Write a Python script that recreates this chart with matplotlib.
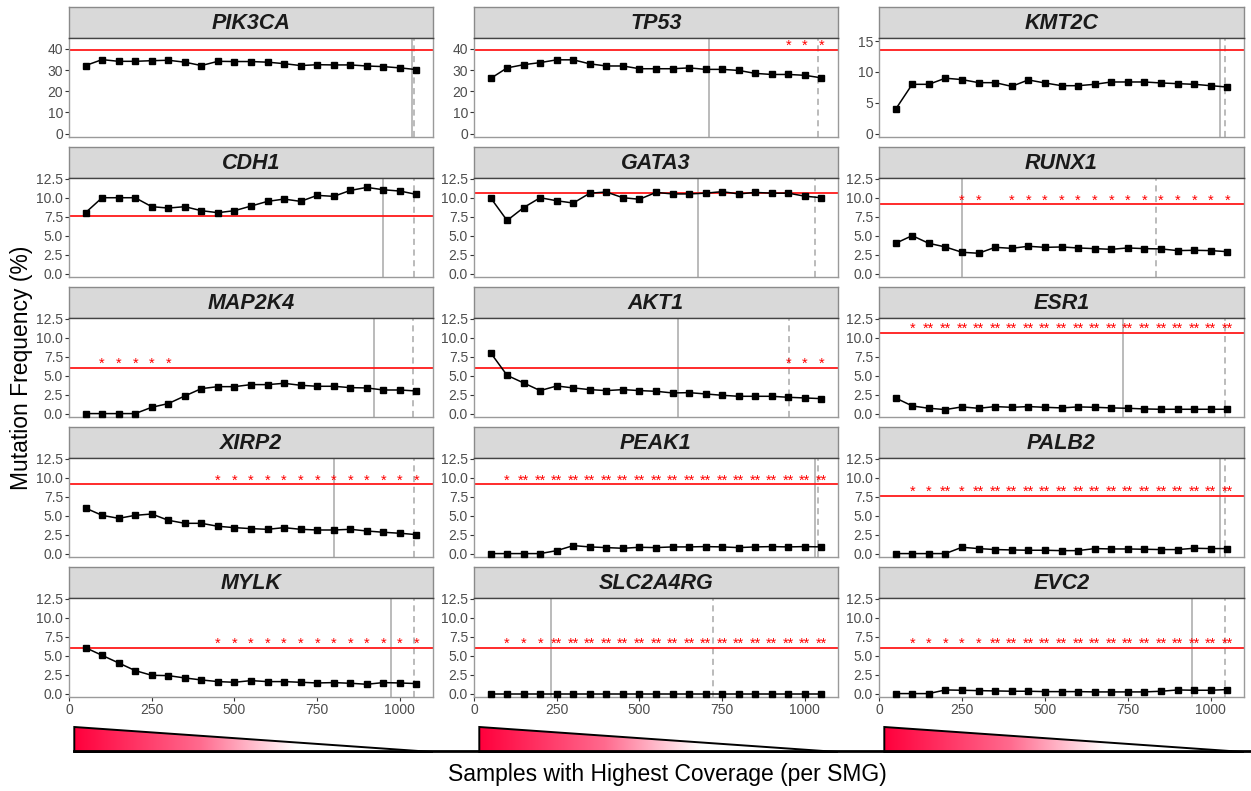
import numpy as np
import matplotlib
matplotlib.use("Agg")
import matplotlib.pyplot as plt
from matplotlib.colors import LinearSegmentedColormap
from matplotlib.patches import Polygon
from matplotlib.lines import Line2D

plt.rcParams['font.family'] = ['Liberation Sans', 'DejaVu Sans']

# ---------------- data ----------------
samples = [50, 100, 150, 200, 250, 300, 350, 400, 450, 500, 550,
           600, 650, 700, 750, 800, 850, 900, 950, 1000, 1050]

genes = ["PIK3CA", "TP53", "KMT2C",
         "CDH1", "GATA3", "RUNX1",
         "MAP2K4", "AKT1", "ESR1",
         "XIRP2", "PEAK1", "PALB2",
         "MYLK", "SLC2A4RG", "EVC2"]

pik3ca = [32.1, 34.9, 34.1, 34.1, 34.4, 34.6, 33.7, 32.1, 34.1, 34.0, 34.0,
          33.7, 33.0, 32.1, 32.5, 32.4, 32.4, 31.9, 31.6, 31.0, 30.2]
tp53 = [26.0, 31.0, 32.5, 33.5, 34.8, 34.8, 32.9, 31.9, 31.9, 30.6, 30.6,
        30.6, 31.0, 30.3, 30.3, 29.8, 28.4, 27.9, 27.9, 27.5, 26.3]
kmt2c = [3.94, 7.99, 7.99, 8.98, 8.76, 8.26, 8.26, 7.66, 8.70, 8.21, 7.77,
         7.77, 7.99, 8.37, 8.37, 8.37, 8.21, 8.10, 7.99, 7.77, 7.55]
cdh1 = [8.03, 10.0, 10.0, 10.0, 8.82, 8.64, 8.82, 8.29, 8.03, 8.29, 8.90,
        9.52, 9.82, 9.52, 10.31, 10.18, 10.96, 11.36, 11.05, 10.88, 10.44]
gata3 = [10.0, 7.0, 8.7, 10.0, 9.6, 9.3, 10.6, 10.75, 10.0, 9.8, 10.7,
         10.5, 10.5, 10.6, 10.8, 10.5, 10.7, 10.6, 10.6, 10.2, 10.0]
runx1 = [3.99, 5.0, 3.99, 3.51, 2.81, 2.68, 3.46, 3.33, 3.6, 3.46, 3.51,
         3.38, 3.29, 3.2, 3.38, 3.29, 3.25, 3.03, 3.07, 3.03, 2.89]
map2k4 = [0.0, 0.0, 0.0, 0.0, 0.83, 1.32, 2.32, 3.29, 3.55, 3.55, 3.82,
          3.82, 3.99, 3.73, 3.6, 3.6, 3.42, 3.38, 3.11, 3.11, 2.98]
akt1 = [8.03, 5.04, 4.04, 3.03, 3.64, 3.38, 3.16, 3.03, 3.16, 3.03, 2.94,
        2.72, 2.76, 2.59, 2.41, 2.28, 2.28, 2.28, 2.15, 2.06, 1.97]
esr1 = [2.06, 1.01, 0.70, 0.53, 0.88, 0.70, 0.92, 0.83, 0.92, 0.83, 0.75,
        0.88, 0.83, 0.75, 0.70, 0.61, 0.57, 0.57, 0.57, 0.57, 0.57]
xirp2 = [6.0, 5.04, 4.65, 5.04, 5.22, 4.39, 3.99, 3.99, 3.6, 3.42, 3.29,
         3.2, 3.42, 3.2, 3.11, 3.11, 3.2, 2.98, 2.81, 2.68, 2.5]
peak1 = [0.0, 0.0, 0.0, 0.0, 0.39, 1.05, 0.88, 0.79, 0.70, 0.83, 0.79,
         0.88, 0.88, 0.92, 0.88, 0.79, 0.88, 0.92, 0.88, 0.92, 0.88]
palb2 = [0.0, 0.0, 0.0, 0.0, 0.83, 0.66, 0.53, 0.48, 0.44, 0.44, 0.39,
         0.39, 0.66, 0.61, 0.61, 0.57, 0.53, 0.53, 0.70, 0.66, 0.66]
mylk = [6.05, 5.04, 4.04, 3.03, 2.41, 2.37, 2.06, 1.80, 1.58, 1.49, 1.71,
        1.58, 1.58, 1.49, 1.40, 1.45, 1.36, 1.23, 1.45, 1.40, 1.32]
slc2a4rg = [0.0, 0.0, 0.0, 0.0, 0.0, 0.0, 0.0, 0.0, 0.0, 0.0, 0.0,
            0.0, 0.0, 0.0, 0.0, 0.0, 0.0, 0.0, 0.0, 0.0, 0.0]
evc2 = [0.0, 0.0, 0.0, 0.48, 0.44, 0.39, 0.35, 0.31, 0.31, 0.26, 0.26,
        0.26, 0.22, 0.22, 0.22, 0.22, 0.31, 0.48, 0.44, 0.44, 0.53]

series = [pik3ca, tp53, kmt2c, cdh1, gata3, runx1, map2k4, akt1, esr1,
          xirp2, peak1, palb2, mylk, slc2a4rg, evc2]

# red reference line per gene
thresholds = [39.5, 39.4, 13.6, 7.6, 10.65, 9.12, 6.05, 6.05, 10.6,
              9.12, 9.12, 7.63, 6.05, 6.05, 6.05]
# height of the significance labels
star_levels = [43.6, 43.6, 15.0, 8.8, 11.8, 10.3, 7.24, 7.24, 11.8,
               10.3, 10.3, 8.77, 7.24, 7.24, 7.24]
# significance per sample point: 0 none, 1 "*", 2 "**"
star_codes = ["000000000000000000000",
              "000000000000000000111",
              "000000000000000000000",
              "000000000000000000000",
              "000000000000000000000",
              "000011011111111111111",
              "011111000000000000000",
              "000000000000000000111",
              "012222222222222222222",
              "000000001111111111111",
              "012222222222222222222",
              "011212222222222222222",
              "000000001111111111111",
              "011122222222222222222",
              "011111222222222222222"]
solid_cutoff = [1038, 711, 1028, 949, 677, 251, 921, 616, 735,
                800, 1032, 1027, 973, 234, 942]
dashed_cutoff = [1043, 1040, 1044, 1042, 1030, 835, 1041, 951, 1044,
                 1043, 1040, 1042, 1043, 721, 1044]

y_limits = [(-1.6, 45.1), (-1.6, 45.1), (-0.55, 15.5)] + [(-0.45, 12.6)] * 12
y_ticks = [[0, 10, 20, 30, 40], [0, 10, 20, 30, 40], [0, 5, 10, 15]] + \
          [[0.0, 2.5, 5.0, 7.5, 10.0, 12.5]] * 12
x_ticks = [0, 250, 500, 750, 1000]

# ---------------- layout ----------------
W, H = 1251, 791
fig = plt.figure(figsize=(W / 100, H / 100), dpi=100)
fig.patch.set_facecolor("white")


def px_axes(x0, y0, x1, y1):
    return fig.add_axes([x0 / W, 1 - y1 / H, (x1 - x0) / W, (y1 - y0) / H])


col_left = [69, 474, 879]
col_right = [433, 838, 1244]
border = "#9A9A9A"
tick_col = "#333333"
lab_col = "#4D4D4D"
star_map = {"0": "", "1": "*", "2": "**"}

for i, gene in enumerate(genes):
    r, c = divmod(i, 3)
    strip_top = 7 + 140 * r
    strip_bot = 38 + 140 * r
    pan_bot = 137 + 140 * r
    x0, x1 = col_left[c], col_right[c]

    # strip
    sax = px_axes(x0, strip_top, x1, strip_bot)
    sax.set_facecolor("#D9D9D9")
    sax.set_xticks([])
    sax.set_yticks([])
    for sp in sax.spines.values():
        sp.set_color("#8A8A8A")
        sp.set_linewidth(1.0)
    sax.text(0.5, 0.47, gene, transform=sax.transAxes, ha="center", va="center",
             fontsize=15.5, fontweight="bold", fontstyle="italic", color="#1A1A1A")

    # panel
    ax = px_axes(x0, strip_bot, x1, pan_bot)
    ax.set_facecolor("white")
    ax.set_xlim(0, 1100)
    ax.set_ylim(*y_limits[i])
    for sp in ax.spines.values():
        sp.set_color(border)
        sp.set_linewidth(1.0)
    ax.spines["top"].set_color("#444444")

    ax.axvline(solid_cutoff[i], color="#A8A8A8", lw=1.1, zorder=1)
    ax.axvline(dashed_cutoff[i], color="#A8A8A8", lw=1.1, ls=(0, (4, 3)), zorder=1)
    ax.axhline(thresholds[i], color="#FF1A1A", lw=1.3, zorder=2)
    ax.plot(samples, series[i], color="black", lw=1.1, marker="s", ms=4.6,
            zorder=4, clip_on=False)

    for xv, code in zip(samples, star_codes[i]):
        lbl = star_map[code]
        if lbl:
            ax.annotate(lbl, (xv, star_levels[i]), xytext=(0, -6.4),
                        textcoords="offset points", ha="center", va="baseline",
                        fontsize=10.5, color="red", zorder=3)

    ax.set_yticks(y_ticks[i])
    if i >= 3:
        ax.set_yticklabels([f"{v:.1f}" for v in y_ticks[i]])
    else:
        ax.set_yticklabels([f"{v:g}" for v in y_ticks[i]])
    ax.tick_params(axis="y", length=2.8, width=0.8, color=tick_col,
                   labelsize=10, labelcolor=lab_col, pad=1.5)
    ax.set_xticks(x_ticks)
    if r == 4:
        ax.tick_params(axis="x", length=2.8, width=0.8, color=tick_col,
                       labelsize=10, labelcolor=lab_col, pad=1.5)
    else:
        ax.tick_params(axis="x", length=0, labelbottom=False)

# ---------------- coverage wedges ----------------
cmap = LinearSegmentedColormap.from_list(
    "wedge", [(0.0, "#FF003C"), (0.35, "#FF6A8E"), (0.62, "#FFFFFF"), (1.0, "#FFFFFF")])
grad = np.linspace(0, 1, 256).reshape(1, -1)
for c in range(3):
    tax = px_axes(col_left[c], 727, col_right[c], 752)
    tax.set_xlim(0, 1100)
    tax.set_ylim(0, 1)
    tax.axis("off")
    verts = [(16, 1), (16, 0), (1100, 0)]
    tri = Polygon(verts, closed=True, facecolor="none", edgecolor="none")
    tax.add_patch(tri)
    im = tax.imshow(grad, extent=(16, 1100, 0, 1), aspect="auto", cmap=cmap,
                    interpolation="bilinear", zorder=1)
    im.set_clip_path(tri)
    outline = Polygon(verts, closed=True, facecolor="none", edgecolor="black",
                      lw=1.4, clip_on=False, zorder=2)
    tax.add_patch(outline)

fig.add_artist(Line2D([74 / W, 1.0], [1 - 751 / H, 1 - 751 / H],
                      transform=fig.transFigure, color="black", lw=2.0))

# ---------------- axis titles ----------------
fig.text(22 / W, 1 - 368 / H, "Mutation Frequency (%)", rotation=90,
         ha="center", va="center", fontsize=16.5, color="black")
fig.text(667 / W, 1 - 775 / H, "Samples with Highest Coverage (per SMG)",
         ha="center", va="center", fontsize=16.5, color="black")

fig.savefig("out.png", dpi=100, facecolor="white")
